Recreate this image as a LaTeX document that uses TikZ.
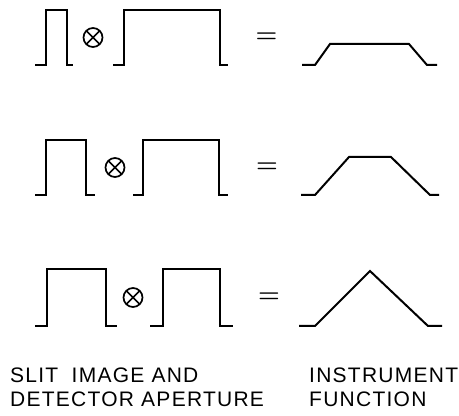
\documentclass[tikz,border=0pt]{standalone}
\usepackage{fontspec}
\newfontfamily\plotfont{Liberation Sans}[LetterSpace=6]
\usetikzlibrary{positioning}

\begin{document}
\begin{tikzpicture}[
    x=1pt, y=1pt,
    sig/.style={line width=2pt, line join=miter},
    conv/.style={circle, draw, line width=1.7pt, minimum size=19pt, inner sep=0pt,
        path picture={\draw[line width=1.7pt]
            (path picture bounding box.north west) -- (path picture bounding box.south east)
            (path picture bounding box.south west) -- (path picture bounding box.north east);}},
    eq/.style={font=\fontsize{24}{24}\selectfont\boldmath, inner sep=0pt},
    caption/.style={font=\plotfont\fontsize{21}{24}\selectfont, align=left, anchor=north west, inner sep=0pt},
]
\useasboundingbox (0,0) rectangle (459,416);

% 1. Narrow slit with wide aperture
\draw[sig] (35,351) -- (46,351) -- (46,406) -- (67,406) -- (67,351) -- (73,351);
\node[conv] (x1) at (93,378.5) {};
\draw[sig] (113,351) -- (124,351) -- (124,406) -- (220,406) -- (220,351) -- (228,351);
\node[eq] (e1) at (266.5,378.5) {$=$};
\draw[sig] (302,351) -- (315,351) -- (330,372) -- (409,372) -- (427,351) -- (437,351);

% 2. Wider slit
\draw[sig] (35,221) -- (46,221) -- (46,276) -- (86,276) -- (86,221) -- (95,221);
\node[conv] (x2) at (115,248.5) {};
\draw[sig] (133,221) -- (143,221) -- (143,276) -- (219,276) -- (219,221) -- (228,221);
\node[eq] (e2) at (267,248.5) {$=$};
\draw[sig] (301,221) -- (315,221) -- (349,259) -- (391,259) -- (430,221) -- (439,221);

% 3. Slit and aperture of equal width
\draw[sig] (35,90) -- (47,90) -- (47,147) -- (106,147) -- (106,90) -- (117,90);
\node[conv] (x3) at (133,118.5) {};
\draw[sig] (150,90) -- (163,90) -- (163,147) -- (220,147) -- (220,90) -- (233,90);
\node[eq] (e3) at (269,118.5) {$=$};
\draw[sig] (299,90) -- (315,90) -- (370,145) -- (428,90) -- (442,90);

% Captions
\node[caption] (lhs) at (10,48) {SLIT\hspace{0.3em} IMAGE AND\\DETECTOR APERTURE};
\node[caption] (rhs) at (309,48) {INSTRUMENT\\FUNCTION};
\end{tikzpicture}
\end{document}
